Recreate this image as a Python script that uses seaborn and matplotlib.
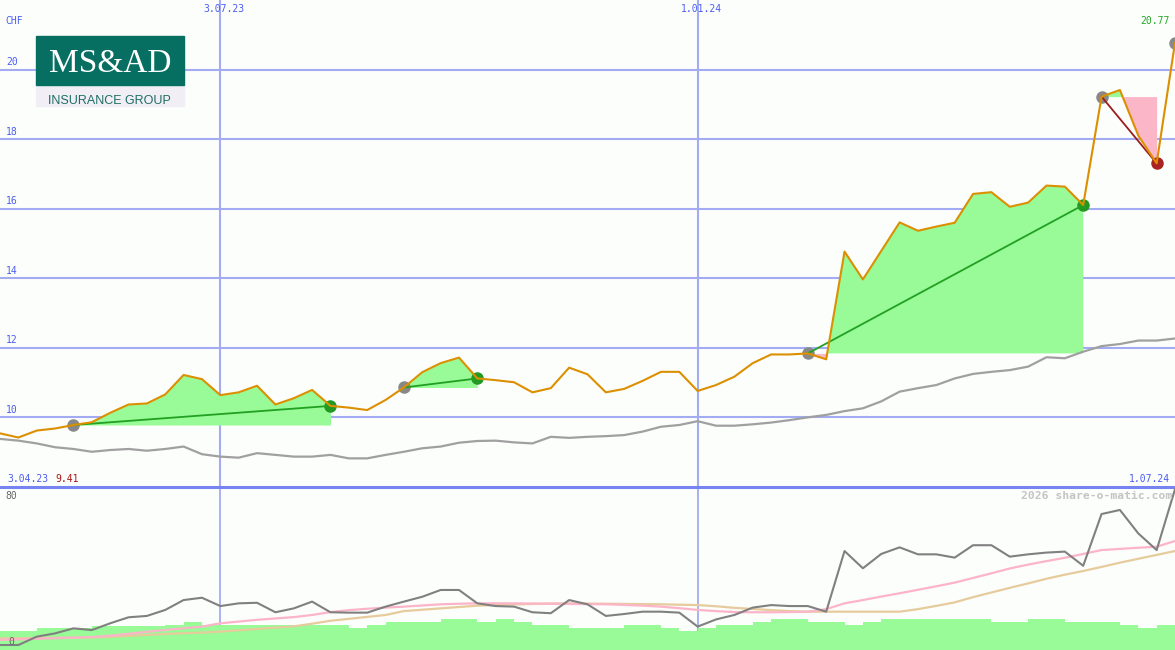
import numpy as np
import seaborn as sns
import matplotlib.pyplot as plt
from matplotlib.patches import Rectangle
from matplotlib.transforms import blended_transform_factory

# weekly closes (CHF), index 0 .. 64
price = [9.53, 9.41, 9.61, 9.67, 9.77, 9.85, 10.12, 10.36, 10.39, 10.65,
         11.21, 11.09, 10.63, 10.71, 10.90, 10.36, 10.54, 10.78, 10.32, 10.27,
         10.20, 10.49, 10.85, 11.29, 11.55, 11.71, 11.11, 11.06, 11.00, 10.71,
         10.83, 11.42, 11.23, 10.71, 10.81, 11.04, 11.30, 11.30, 10.75, 10.92,
         11.16, 11.55, 11.80, 11.80, 11.83, 11.66, 14.76, 13.96, 14.78, 15.60,
         15.36, 15.48, 15.59, 16.42, 16.47, 16.05, 16.17, 16.66, 16.63, 16.10,
         19.22, 19.41, 18.10, 17.30, 20.77]
avg_line = [9.37, 9.32, 9.24, 9.13, 9.08, 9.00, 9.05, 9.08, 9.03, 9.08,
            9.15, 8.93, 8.86, 8.83, 8.96, 8.91, 8.86, 8.86, 8.91, 8.81,
            8.81, 8.91, 9.00, 9.10, 9.15, 9.26, 9.31, 9.32, 9.27, 9.24,
            9.43, 9.40, 9.43, 9.45, 9.48, 9.58, 9.72, 9.77, 9.88, 9.75,
            9.75, 9.79, 9.84, 9.91, 9.99, 10.06, 10.17, 10.25, 10.45, 10.73,
            10.83, 10.92, 11.11, 11.24, 11.30, 11.35, 11.45, 11.72, 11.69, 11.88,
            12.04, 12.10, 12.20, 12.20, 12.26]

# lower panel indicator and its two averages
osc = [0, 0, 4.3, 6.0, 8.6, 7.7, 11.2, 14.3, 15.0, 18.1,
       23.2, 24.4, 20.1, 21.5, 21.8, 16.9, 18.9, 22.4, 16.9, 16.7,
       16.7, 19.8, 22.4, 24.9, 28.4, 28.4, 21.5, 20.1, 19.8, 16.9,
       16.4, 23.2, 21.0, 15.0, 16.0, 17.2, 17.2, 16.7, 9.5, 13.2,
       15.5, 19.3, 20.6, 20.1, 20.1, 17.2, 48.5, 39.6, 47.0, 50.4,
       46.8, 46.8, 45.1, 51.5, 51.5, 45.6, 46.8, 47.7, 48.2, 40.9,
       67.6, 69.7, 57.6, 49.0, 80.4]
osc_fast = [2.6, 2.9, 3.2, 3.5, 3.8, 4.1, 4.8, 5.8, 6.8, 7.8,
            8.6, 9.5, 11.2, 12.1, 13.0, 13.7, 14.4, 15.5, 17.0, 18.0,
            18.7, 19.3, 19.8, 20.4, 21.0, 21.3, 21.5, 21.5, 21.5, 21.4,
            21.3, 21.2, 21.1, 21.0, 20.7, 20.3, 19.8, 19.0, 18.1, 17.5,
            17.0, 16.9, 16.9, 17.0, 17.2, 18.5, 21.5, 23.2, 25.0, 26.7,
            28.5, 30.3, 32.2, 34.6, 37.0, 39.5, 41.5, 43.3, 45.0, 47.0,
            49.0, 49.6, 50.2, 50.7, 53.7]
osc_slow = [3.4, 3.5, 3.6, 3.7, 3.8, 3.9, 4.2, 4.7, 5.2, 5.7,
            6.1, 6.4, 6.9, 7.6, 8.3, 9.0, 9.6, 11.0, 12.5, 13.5,
            14.5, 15.5, 17.5, 18.2, 18.9, 19.6, 20.3, 20.6, 20.9, 21.2,
            21.4, 21.5, 21.4, 21.3, 21.2, 21.1, 21.0, 20.8, 20.6, 20.0,
            19.2, 18.6, 18.0, 17.5, 17.2, 17.2, 17.2, 17.2, 17.2, 17.2,
            18.5, 20.2, 22.0, 24.7, 27.1, 29.5, 31.8, 34.2, 36.3, 38.2,
            40.3, 42.5, 44.5, 46.5, 48.5]
volume = [19.3, 19.3, 22.3, 22.3, 22.3, 24.3, 24.3, 24.3, 24.3, 25,
          28.3, 25, 25, 25, 25, 25, 25, 25, 25, 22.3,
          25, 28.3, 28.3, 28.3, 31, 31, 28.3, 31, 28.3, 25,
          25, 22.3, 22.3, 22.3, 25, 25, 22.3, 19.3, 22.3, 25,
          25, 28.3, 31, 31, 28.3, 28.3, 25, 28.3, 31, 31,
          31, 31, 31, 31, 28.3, 28.3, 31, 31, 28.3, 28.3,
          28.3, 25, 22.3, 25]

trends = [(4, 18), (22, 26), (44, 59), (60, 63)]
chf_ticks = [10, 12, 14, 16, 18, 20]
date_marks = [(12, '3.07.23'), (38, '1.01.24')]
start_label, end_label = '3.04.23', '1.07.24'

weeks = np.arange(len(price))
bg = '#fcfefc'
grid_c = '#a3abf2'
blue = '#4a5cf0'
mono = 'DejaVu Sans Mono'

sns.set_style('white', {'axes.facecolor': bg})
fig = plt.figure(figsize=(11.75, 6.5), dpi=100, facecolor=bg)
ax = fig.add_axes([0, 163 / 650, 1, 487 / 650])
axl = fig.add_axes([0, 0, 1, 163 / 650])
for a in (ax, axl):
    a.set_xlim(0, 64)
    a.set_xticks([])
    a.set_yticks([])
    a.set_xlabel('')
    a.set_ylabel('')
    for s in a.spines.values():
        s.set_visible(False)

ax.set_ylim(7.986, 22.0)
for t in chf_ticks:
    ax.axhline(t, color=grid_c, lw=1.5, zorder=1)
for i, lab in date_marks:
    ax.axvline(i, color=grid_c, lw=1.5, zorder=1)
    axl.axvline(i, color=grid_c, lw=1.3, zorder=0)

# trend fills and lines
p = np.array(price)
for s, e in trends:
    xs = weeks[s:e + 1]
    ys = p[s:e + 1]
    base = p[s]
    ax.fill_between(xs, ys, base, where=ys >= base, interpolate=True,
                    color='#98fb98', lw=0, zorder=2)
    ax.fill_between(xs, ys, base, where=ys < base, interpolate=True,
                    color='#fbb6c8', lw=0, zorder=2)
    up = p[e] >= base
    ax.plot([s, e], [base, p[e]], color='#22a022' if up else '#9b1c1c',
            lw=1.3, zorder=4)
    ax.plot(s, base, 'o', color='#888888', ms=8, zorder=3)
    ax.plot(e, p[e], 'o', color='#229922' if up else '#aa2222', ms=8, zorder=3)
ax.plot(weeks[-1], p[-1], 'o', color='#888888', ms=8, zorder=3, clip_on=False)

sns.lineplot(x=weeks, y=avg_line, ax=ax, color='#a0a0a0', lw=1.6, zorder=3)
sns.lineplot(x=weeks, y=price, ax=ax, color='#dc8f00', lw=1.5, zorder=5)
ax.set_xlim(0, 64)

# labels in the upper panel
yt = blended_transform_factory(ax.transAxes, ax.transData)
for t in chf_ticks:
    ax.text(0.005, t + 0.06, str(t), transform=yt, color=blue, fontsize=7,
            family=mono, va='bottom', ha='left')
ax.text(0.005, 0.957, 'CHF', transform=ax.transAxes, color=blue, fontsize=7,
        family=mono, va='center', ha='left')
xt = blended_transform_factory(ax.transData, ax.transAxes)
for i, lab in date_marks:
    ax.text(i + 0.2, 0.9815, lab, transform=xt, color=blue, fontsize=7,
            family=mono, va='center', ha='center')
ax.text(0.006, 0.017, start_label, transform=ax.transAxes, color=blue,
        fontsize=7, family=mono, va='center', ha='left')
ax.text(0.047, 0.017, f'{min(price):.2f}', transform=ax.transAxes,
        color='#aa1111', fontsize=7, family=mono, va='center', ha='left')
ax.text(0.9957, 0.017, end_label, transform=ax.transAxes, color=blue,
        fontsize=7, family=mono, va='center', ha='right')
ax.text(0.9957, 0.957, f'{price[-1]:.2f}', transform=ax.transAxes,
        color='#22aa22', fontsize=7, family=mono, va='center', ha='right')

# lower panel: volume bars underneath, indicator lines on top
axl.set_ylim(0, 163)
axl.bar(weeks[:-1], volume, width=1.0, align='edge', color='#98fb98',
        lw=0, zorder=1)
axo = axl.twinx()
axo.set_ylim(-2.58, 81.55)
axo.set_xlim(0, 64)
axo.set_yticks([])
axo.patch.set_visible(False)
for s in axo.spines.values():
    s.set_visible(False)
sns.lineplot(x=weeks, y=osc_slow, ax=axo, color='#e6cb9c', lw=1.6)
sns.lineplot(x=weeks, y=osc_fast, ax=axo, color='#fcb4c8', lw=1.6)
sns.lineplot(x=weeks, y=osc, ax=axo, color='#808080', lw=1.5)
axo.set_ylabel('')
axo.set_yticks([])
axo.set_xlim(0, 64)
axl.spines['top'].set_visible(True)
axl.spines['top'].set_color('#7584f0')
axl.spines['top'].set_linewidth(2.2)
axo.text(0.005, 0.945, '80', transform=axo.transAxes, color='#666666',
         fontsize=7, family=mono, va='center', ha='left')
axo.text(0.007, 0.049, '0', transform=axo.transAxes, color='#666666',
         fontsize=7, family=mono, va='center', ha='left')
axo.text(0.9975, 0.945, '2026 share-o-matic.com', transform=axo.transAxes,
         color='#c4c4c4', fontsize=8.2, family=mono, fontweight='bold',
         va='center', ha='right')

# company logo
fig.add_artist(Rectangle((36 / 1175, 1 - 106 / 650), 148 / 1175, 21 / 650,
                         transform=fig.transFigure, color='#f1eff5', zorder=10))
fig.add_artist(Rectangle((36 / 1175, 1 - 85 / 650), 148 / 1175, 49 / 650,
                         transform=fig.transFigure, color='#066f61', zorder=11))
fig.text(110 / 1175, 1 - 72 / 650, 'MS&AD', color='white', fontsize=24,
         family='Liberation Serif', ha='center', va='baseline', zorder=12)
fig.text(109 / 1175, 1 - 104 / 650, 'INSURANCE GROUP', color='#1d6e63',
         fontsize=9, family='Liberation Sans', ha='center', va='baseline',
         zorder=12)

fig.savefig('out.png', dpi=100, facecolor=bg)
